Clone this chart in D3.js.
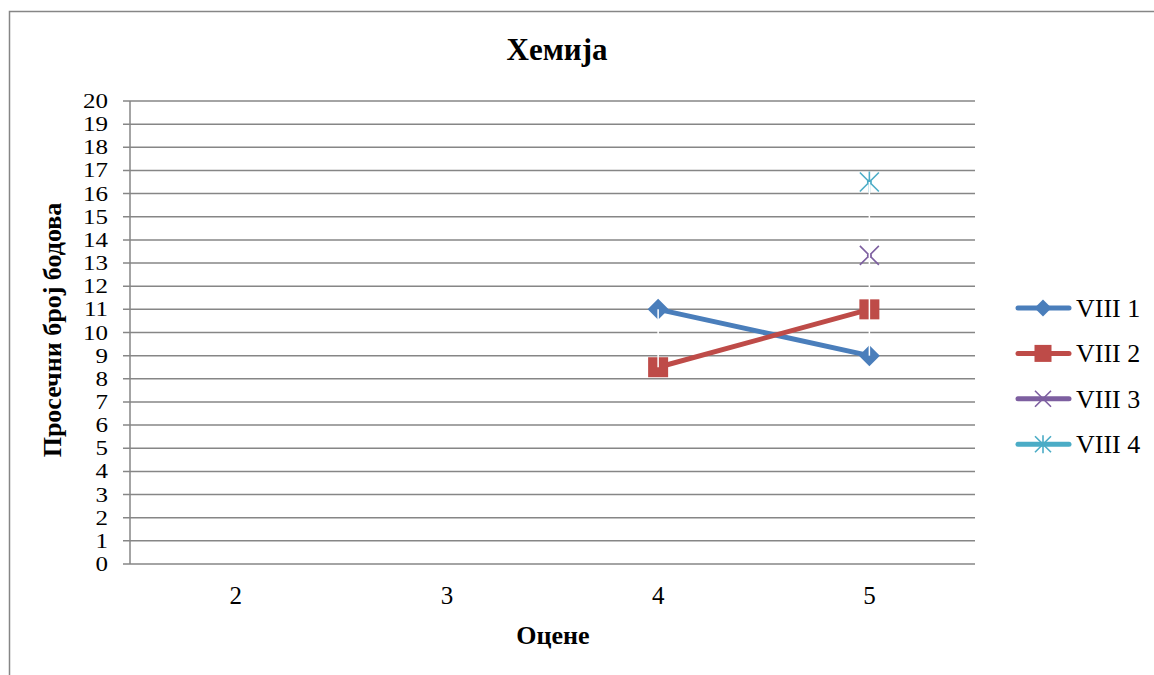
<!DOCTYPE html>
<html><head><meta charset="utf-8">
<script src="https://cdn.jsdelivr.net/npm/d3@7"></script>
<style>body{margin:0;background:#fff;} svg{display:block;} text{font-family:"Liberation Serif","Times New Roman",serif;fill:#000;}</style>
</head><body>
<svg id="c" width="1154" height="675"></svg>
<script>
const categories = ["2","3","4","5"];
const seriesNames = ["VIII 1","VIII 2","VIII 3","VIII 4"];
const viii1 = [null, null, 11, 9];
const viii2 = [null, null, 8.5, 11];
const viii3 = [null, null, null, 13.33];
const viii4 = [null, null, null, 16.5];
const yTicks = d3.range(0, 21, 1);
const colors = ["#4A7EBB","#BE4B48","#7D5FA0","#4BACC6"];
const markers = ["diamond","square","x","star"];
const allSeries = [viii1, viii2, viii3, viii4];

const svg = d3.select("#c");
svg.append("rect").attr("x",9.5).attr("y",11.5).attr("width",1160).attr("height",700)
  .attr("fill","#fff").attr("stroke","#868686").attr("stroke-width",1.5);

const L=130, R=975, T=101, B=564;
const x = d3.scaleBand().domain(categories).range([L,R]);
const y = d3.scaleLinear().domain([0,20]).range([B,T]);

// gridlines
svg.append("g").selectAll("line").data(yTicks).join("line")
  .attr("x1",L-7).attr("x2",R).attr("y1",d=>y(d)).attr("y2",d=>y(d))
  .attr("stroke","#868686").attr("stroke-width",1.5);
// y axis line
svg.append("line").attr("x1",L).attr("x2",L).attr("y1",T).attr("y2",B)
  .attr("stroke","#868686").attr("stroke-width",1.5);
// y labels
svg.append("g").selectAll("text").data(yTicks).join("text")
  .attr("transform",d=>`translate(108,${y(d)+7}) scale(1.25,1)`).attr("text-anchor","end")
  .attr("font-size",20).text(d=>d);
// x labels
svg.append("g").selectAll("text").data(categories).join("text")
  .attr("x",d=>x(d)+x.bandwidth()/2).attr("y",604).attr("text-anchor","middle")
  .attr("font-size",25).text(d=>d);

// title & axis titles
svg.append("text").attr("x",557).attr("y",60).attr("text-anchor","middle")
  .attr("font-weight","bold").attr("font-size",31).text("Хемија");
svg.append("text").attr("x",553).attr("y",644).attr("text-anchor","middle")
  .attr("font-weight","bold").attr("font-size",26).text("Оцене");
svg.append("text").attr("transform","translate(61,330) rotate(-90)").attr("text-anchor","middle")
  .attr("font-weight","bold").attr("font-size",26).text("Просечни број бодова");

const cx = c => x(c)+x.bandwidth()/2;

function drawMarker(g, type, px, py, color, s){
  if(type==="diamond"){
    g.append("path").attr("d",`M${px},${py-s}L${px+s},${py}L${px},${py+s}L${px-s},${py}Z`).attr("fill",color);
  } else if(type==="square"){
    g.append("rect").attr("x",px-s).attr("y",py-s).attr("width",2*s).attr("height",2*s).attr("fill",color);
  } else if(type==="x"){
    g.append("path").attr("d",`M${px-s},${py-s}L${px+s},${py+s}M${px-s},${py+s}L${px+s},${py-s}`)
      .attr("stroke",color).attr("stroke-width",1.6).attr("fill","none");
  } else if(type==="star"){
    g.append("path").attr("d",`M${px-s},${py-s}L${px+s},${py+s}M${px-s},${py+s}L${px+s},${py-s}M${px},${py-s-1}L${px},${py+s+1}`)
      .attr("stroke",color).attr("stroke-width",1.6).attr("fill","none");
  }
}
const msize = [10.5, 10, 9.5, 9.5];

// series lines
const line = d3.line().defined(d=>d.v!=null).x(d=>cx(d.c)).y(d=>y(d.v));
allSeries.forEach((s,i)=>{
  const pts = categories.map((c,j)=>({c, v:s[j]}));
  svg.append("path").datum(pts).attr("d",line).attr("fill","none")
    .attr("stroke",colors[i]).attr("stroke-width",5).attr("stroke-linejoin","round").attr("stroke-linecap","round");
});
allSeries.forEach((s,i)=>{
  categories.forEach((c,j)=>{ if(s[j]!=null) drawMarker(svg, markers[i], cx(c), y(s[j]), colors[i], msize[i]); });
});
// high-low lines (white)
categories.forEach((c,j)=>{
  const vals = allSeries.map(s=>s[j]).filter(v=>v!=null);
  if(vals.length>1){
    svg.append("line").attr("x1",cx(c)).attr("x2",cx(c)).attr("y1",y(d3.min(vals))).attr("y2",y(d3.max(vals)))
      .attr("stroke","#fff").attr("stroke-width",1.5);
  }
});

// legend
seriesNames.forEach((n,i)=>{
  const ly = 308 + i*45.4;
  svg.append("line").attr("x1",1018).attr("x2",1069).attr("y1",ly).attr("y2",ly)
    .attr("stroke",colors[i]).attr("stroke-width",5).attr("stroke-linecap","round");
  drawMarker(svg, markers[i], 1043, ly, colors[i], i<2 ? 8.5 : 8);
  svg.append("text").attr("x",1076).attr("y",ly+9).attr("font-size",26).text(n);
});
</script>
</body></html>
